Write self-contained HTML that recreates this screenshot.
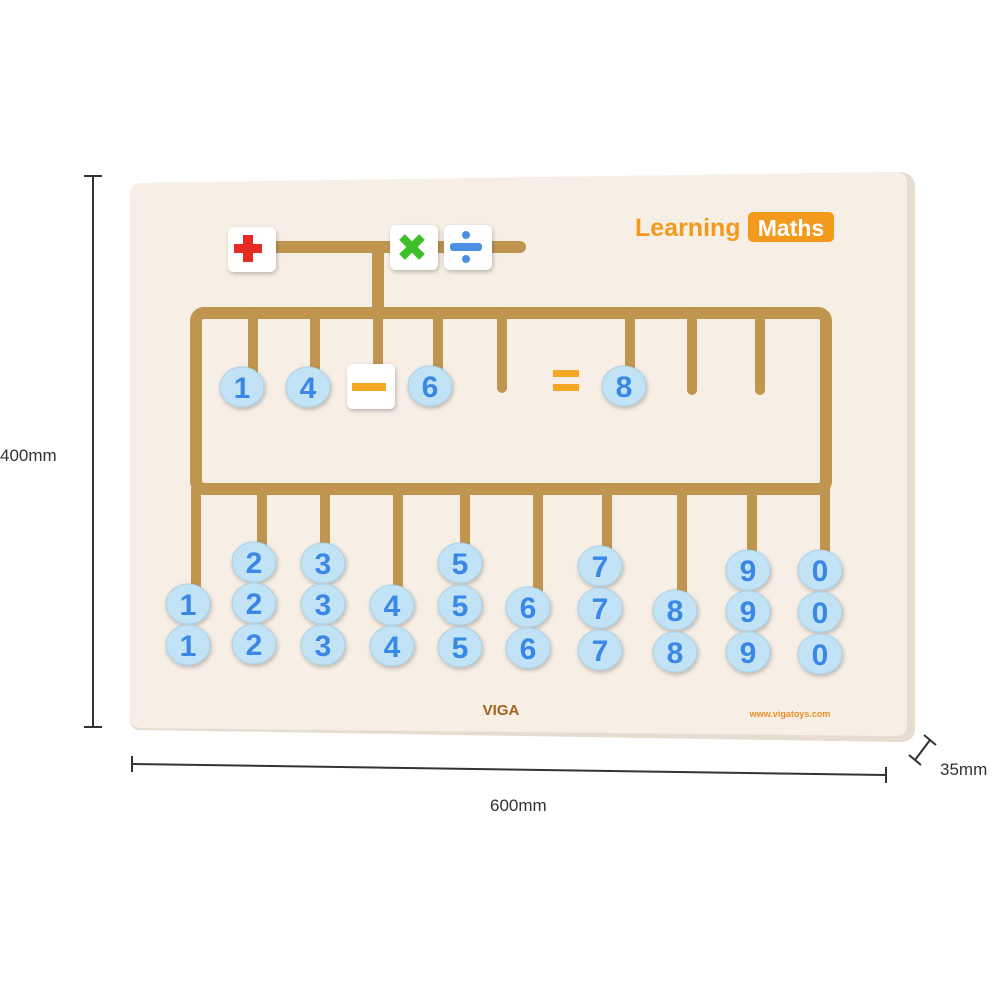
<!DOCTYPE html>
<html><head><meta charset="utf-8"><style>
html,body{margin:0;padding:0;background:#fff;}
svg text{font-family:"Liberation Sans",sans-serif;}
</style></head><body>
<svg width="1000" height="1000" viewBox="0 0 1000 1000" xmlns="http://www.w3.org/2000/svg">
<defs>
<filter id="sh" x="-20%" y="-20%" width="140%" height="140%"><feDropShadow dx="1" dy="2" stdDeviation="2" flood-color="#000" flood-opacity="0.25"/></filter>
<g id="bead"><ellipse cx="0" cy="0" rx="22" ry="20" fill="#c2e3f5" stroke="#a9d2ea" stroke-width="1"/></g>
</defs>
<!-- dimension lines -->
<g stroke="#333" stroke-width="2" fill="none">
<line x1="93" y1="176" x2="93" y2="727"/><line x1="84" y1="176" x2="102" y2="176"/><line x1="84" y1="727" x2="102" y2="727"/>
<line x1="132" y1="764" x2="886" y2="775"/><line x1="132" y1="756" x2="132" y2="772"/><line x1="886" y1="767" x2="886" y2="783"/>
<line x1="915" y1="760" x2="930" y2="740"/><line x1="909" y1="755" x2="921" y2="765"/><line x1="924" y1="735" x2="936" y2="745"/>
</g>
<text x="0" y="461" font-size="17" fill="#333">400mm</text>
<text x="490" y="811" font-size="17" fill="#333">600mm</text>
<text x="940" y="775" font-size="17" fill="#333">35mm</text>
<!-- board -->
<path d="M140 183 L898 172 Q915 172 915 188 L915 728 Q915 742 900 742 L140 730 Q130 730 130 718 Z" fill="#e6ddd0"/>
<path d="M142 183 L895 172 Q907 172 907 184 L907 724 Q907 736 895 736 L142 728 Q130 728 130 716 L130 195 Q130 183 142 183 Z" fill="#f7efe5"/>
<!-- track -->
<g stroke="#bf9550" stroke-linecap="round" fill="none">
<line x1="270" y1="247" x2="520" y2="247" stroke-width="12"/>
<line x1="378" y1="247" x2="378" y2="312" stroke-width="12"/>
<rect x="196" y="313" width="630" height="176" rx="8" stroke-width="12"/>
<g stroke-width="10">
<line x1="253" y1="313" x2="253" y2="375"/><line x1="315" y1="313" x2="315" y2="375"/>
<line x1="378" y1="313" x2="378" y2="375"/><line x1="438" y1="313" x2="438" y2="375"/>
<line x1="502" y1="313" x2="502" y2="388"/><line x1="630" y1="313" x2="630" y2="375"/>
<line x1="692" y1="313" x2="692" y2="390"/><line x1="760" y1="313" x2="760" y2="390"/>
<line x1="196" y1="489" x2="196" y2="590"/><line x1="262" y1="489" x2="262" y2="550"/>
<line x1="325" y1="489" x2="325" y2="550"/><line x1="398" y1="489" x2="398" y2="595"/>
<line x1="465" y1="489" x2="465" y2="550"/><line x1="538" y1="489" x2="538" y2="595"/>
<line x1="607" y1="489" x2="607" y2="555"/><line x1="682" y1="489" x2="682" y2="600"/>
<line x1="752" y1="489" x2="752" y2="555"/><line x1="825" y1="489" x2="825" y2="555"/>
</g>
</g>
<!-- title -->
<text x="635" y="236" font-size="25" font-weight="bold" fill="#f39a1c">Learning</text>
<rect x="748" y="212" width="86" height="30" rx="5" fill="#f39a1c"/>
<text x="791" y="236" font-size="23" font-weight="bold" fill="#fff" text-anchor="middle">Maths</text>
<!-- operator tiles -->
<g filter="url(#sh)" fill="#fff">
<rect x="228" y="227" width="48" height="45" rx="6"/>
<rect x="390" y="225" width="48" height="45" rx="6"/>
<rect x="444" y="225" width="48" height="45" rx="6"/>
<rect x="347" y="364" width="48" height="45" rx="6"/>
</g>
<rect x="234" y="244" width="28" height="9" fill="#e62a22"/><rect x="243" y="235" width="10" height="27" fill="#e62a22"/>
<g stroke="#3fbf2a" stroke-width="8"><line x1="402" y1="237" x2="422" y2="257"/><line x1="422" y1="237" x2="402" y2="257"/></g>
<rect x="450" y="243" width="32" height="8" rx="3" fill="#4b8fe2"/><circle cx="466" cy="235" r="4" fill="#4b8fe2"/><circle cx="466" cy="259" r="4" fill="#4b8fe2"/>
<rect x="352" y="383" width="34" height="8" fill="#f5a623"/>
<rect x="553" y="370" width="26" height="7" fill="#f5a623"/><rect x="553" y="384" width="26" height="7" fill="#f5a623"/>
<!-- beads -->
<g font-size="30" font-weight="bold" fill="#3a88e6" text-anchor="middle">
<g filter="url(#sh)">
<use href="#bead" x="242" y="387"/><use href="#bead" x="308" y="387"/><use href="#bead" x="430" y="386"/><use href="#bead" x="624" y="386"/>
<use href="#bead" x="188" y="604"/><use href="#bead" x="188" y="645"/>
<use href="#bead" x="254" y="562"/><use href="#bead" x="254" y="603"/><use href="#bead" x="254" y="644"/>
<use href="#bead" x="323" y="563"/><use href="#bead" x="323" y="604"/><use href="#bead" x="323" y="645"/>
<use href="#bead" x="392" y="605"/><use href="#bead" x="392" y="646"/>
<use href="#bead" x="460" y="563"/><use href="#bead" x="460" y="605"/><use href="#bead" x="460" y="647"/>
<use href="#bead" x="528" y="607"/><use href="#bead" x="528" y="648"/>
<use href="#bead" x="600" y="566"/><use href="#bead" x="600" y="608"/><use href="#bead" x="600" y="650"/>
<use href="#bead" x="675" y="610"/><use href="#bead" x="675" y="652"/>
<use href="#bead" x="748" y="570"/><use href="#bead" x="748" y="611"/><use href="#bead" x="748" y="652"/>
<use href="#bead" x="820" y="570"/><use href="#bead" x="820" y="612"/><use href="#bead" x="820" y="654"/>
</g>
<text x="242" y="398">1</text><text x="308" y="398">4</text><text x="430" y="397">6</text><text x="624" y="397">8</text>
<text x="188" y="615">1</text><text x="188" y="656">1</text>
<text x="254" y="573">2</text><text x="254" y="614">2</text><text x="254" y="655">2</text>
<text x="323" y="574">3</text><text x="323" y="615">3</text><text x="323" y="656">3</text>
<text x="392" y="616">4</text><text x="392" y="657">4</text>
<text x="460" y="574">5</text><text x="460" y="616">5</text><text x="460" y="658">5</text>
<text x="528" y="618">6</text><text x="528" y="659">6</text>
<text x="600" y="577">7</text><text x="600" y="619">7</text><text x="600" y="661">7</text>
<text x="675" y="621">8</text><text x="675" y="663">8</text>
<text x="748" y="581">9</text><text x="748" y="622">9</text><text x="748" y="663">9</text>
<text x="820" y="581">0</text><text x="820" y="623">0</text><text x="820" y="665">0</text>
</g>
<text x="501" y="715" font-family="Liberation Serif,serif" font-size="15" font-weight="bold" fill="#a0641e" text-anchor="middle">VIGA</text>
<text x="790" y="717" font-size="9" font-weight="bold" fill="#e8902a" text-anchor="middle">www.vigatoys.com</text>
</svg>
</body></html>
